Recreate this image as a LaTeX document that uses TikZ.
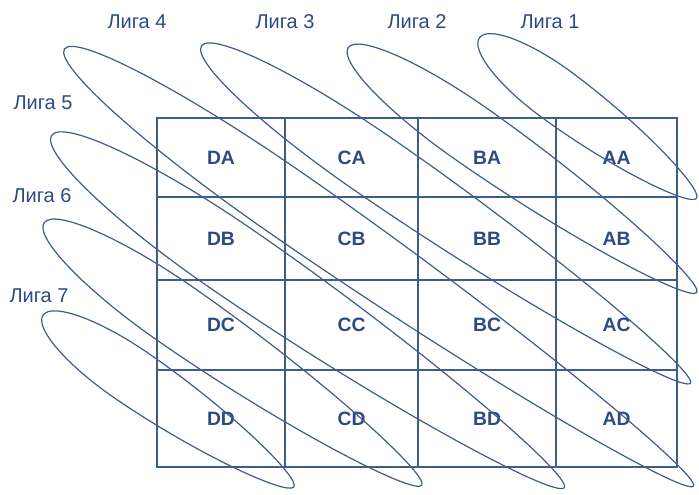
\documentclass[tikz,border=0pt]{standalone}
\usepackage{fontspec}
\setmainfont{Liberation Sans}
\usetikzlibrary{calc}
\definecolor{linecol}{RGB}{62,92,140}
\definecolor{textcol}{RGB}{44,74,132}

\begin{document}
\begin{tikzpicture}[x=0.75pt,y=-0.75pt,
  every node/.style={align=center,text=textcol,inner sep=1pt},
  cell/.style={font=\bfseries\fontsize{14.5}{16}\selectfont},
  leaguelabel/.style={font=\fontsize{15}{17}\selectfont},
  gridline/.style={draw=linecol,line width=1.2pt},
  league/.style={draw=linecol,line width=0.9pt}]
\useasboundingbox (0,0) rectangle (699,494);

% the table
\draw[gridline] (157,118) rectangle (677,467);
\foreach \x in {285,418,556} \draw[gridline] (\x,118) -- (\x,467);
\foreach \y in {197,280,370} \draw[gridline] (157,\y) -- (677,\y);

\foreach \c/\xl/\xr in {D/157/285,C/285/418,B/418/556,A/556/677}
  \foreach \r/\yt/\yb in {A/118/197,B/197/280,C/280/370,D/370/467}
    \node[cell] (\c\r) at ({(\xl+\xr)/2},{(\yt+\yb)/2}) {\c\r};

% one loop per league, along the diagonals (wide at the left end)
\foreach \cx/\cy/\rx/\ry/\ang in {588/118/135/27/36.5,
    522.5/170/213/30/35.1,446/214.5/297/32/34.6,379/267.5/383/34/34.8,
    308/311.5/311/36/34.5,233/354/230/32/34.8,168.5/401/152/28/34.4}
  \draw[league,shift={(\cx,\cy)},rotate=-\ang]
    (-\rx,0) .. controls (-\rx,{-0.552*\ry}) and ({-0.686*\rx},-\ry)
    .. ({-0.3*\rx},-\ry) .. controls ({0.35*\rx},-\ry) and (\rx,{-0.4*\ry})
    .. (\rx,0) .. controls (\rx,{0.4*\ry}) and ({0.35*\rx},\ry)
    .. ({-0.3*\rx},\ry) .. controls ({-0.686*\rx},\ry) and (-\rx,{0.552*\ry})
    .. cycle;

\foreach \n/\xy in {1/{(550,22)},2/{(417,22)},3/{(285,22)},4/{(137,22)},
    5/{(43,103)},6/{(42,196)},7/{(39,296)}}
  \node[leaguelabel] (liga\n) at \xy {Лига \n};
\end{tikzpicture}
\end{document}
